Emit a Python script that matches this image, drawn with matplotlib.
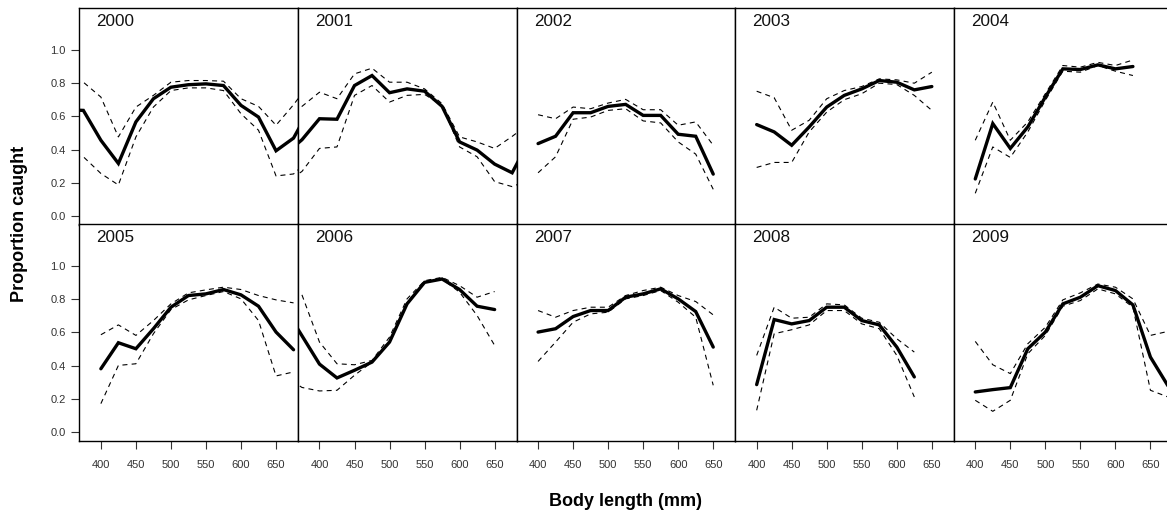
import matplotlib
matplotlib.use("Agg")
import matplotlib.pyplot as plt

plt.rcParams['font.family'] = ['Liberation Sans', 'DejaVu Sans']

# proportion caught by body length, per year: fitted curve + upper/lower band
years = [2000, 2001, 2002, 2003, 2004, 2005, 2006, 2007, 2008, 2009]

len_2000 = [350, 375, 400, 425, 450, 475, 500, 525, 550, 575, 600, 625, 650, 675, 700]
fit_2000 = [0.64, 0.636, 0.457, 0.318, 0.567, 0.706, 0.775, 0.79, 0.795, 0.785, 0.666, 0.596, 0.394, 0.47, 0.66]
hi_2000 = [0.80, 0.805, 0.716, 0.477, 0.656, 0.726, 0.805, 0.815, 0.815, 0.811, 0.706, 0.66, 0.547, 0.67, 0.81]
lo_2000 = [0.36, 0.358, 0.258, 0.189, 0.477, 0.656, 0.755, 0.771, 0.771, 0.755, 0.616, 0.517, 0.243, 0.255, 0.35]

len_2001 = [350, 375, 400, 425, 450, 475, 500, 525, 550, 575, 600, 625, 650, 675, 700]
fit_2001 = [0.37, 0.46, 0.586, 0.583, 0.785, 0.845, 0.742, 0.765, 0.751, 0.66, 0.447, 0.398, 0.314, 0.262, 0.46]
hi_2001 = [0.62, 0.66, 0.745, 0.706, 0.855, 0.889, 0.805, 0.805, 0.765, 0.676, 0.477, 0.447, 0.408, 0.48, 0.56]
lo_2001 = [0.20, 0.27, 0.408, 0.417, 0.726, 0.785, 0.686, 0.726, 0.732, 0.666, 0.417, 0.358, 0.209, 0.179, 0.22]

len_2002 = [400, 425, 450, 475, 500, 525, 550, 575, 600, 625, 650]
fit_2002 = [0.437, 0.481, 0.622, 0.622, 0.66, 0.672, 0.606, 0.606, 0.493, 0.481, 0.254]
hi_2002 = [0.61, 0.586, 0.656, 0.646, 0.68, 0.702, 0.64, 0.64, 0.547, 0.567, 0.427]
lo_2002 = [0.262, 0.358, 0.583, 0.596, 0.636, 0.646, 0.573, 0.561, 0.447, 0.374, 0.163]

len_2003 = [400, 425, 450, 475, 500, 525, 550, 575, 600, 625, 650]
fit_2003 = [0.551, 0.507, 0.427, 0.537, 0.656, 0.726, 0.765, 0.815, 0.805, 0.759, 0.779]
hi_2003 = [0.751, 0.712, 0.517, 0.577, 0.706, 0.755, 0.779, 0.825, 0.819, 0.799, 0.865]
lo_2003 = [0.294, 0.324, 0.324, 0.507, 0.626, 0.70, 0.736, 0.799, 0.791, 0.726, 0.636]

len_2004 = [400, 425, 450, 475, 500, 525, 550, 575, 600, 625]
fit_2004 = [0.225, 0.557, 0.408, 0.537, 0.716, 0.885, 0.881, 0.909, 0.885, 0.899]
hi_2004 = [0.457, 0.686, 0.457, 0.567, 0.736, 0.905, 0.895, 0.924, 0.905, 0.938]
lo_2004 = [0.139, 0.417, 0.354, 0.507, 0.696, 0.871, 0.865, 0.905, 0.871, 0.845]

len_2005 = [400, 425, 450, 475, 500, 525, 550, 575, 600, 625, 650, 675]
fit_2005 = [0.382, 0.538, 0.502, 0.622, 0.751, 0.821, 0.831, 0.857, 0.825, 0.757, 0.602, 0.496]
hi_2005 = [0.586, 0.645, 0.582, 0.671, 0.771, 0.837, 0.855, 0.871, 0.857, 0.821, 0.795, 0.777]
lo_2005 = [0.173, 0.402, 0.412, 0.592, 0.737, 0.795, 0.821, 0.845, 0.801, 0.671, 0.339, 0.363]

len_2006 = [350, 375, 400, 425, 450, 475, 500, 525, 550, 575, 600, 625, 650]
fit_2006 = [0.75, 0.58, 0.41, 0.327, 0.373, 0.422, 0.542, 0.771, 0.90, 0.92, 0.857, 0.757, 0.737]
hi_2006 = [None, 0.825, 0.542, 0.412, 0.406, 0.432, 0.572, 0.801, 0.91, 0.93, 0.88, 0.811, 0.845]
lo_2006 = [0.34, 0.27, 0.249, 0.253, 0.343, 0.422, 0.552, 0.781, 0.90, 0.92, 0.841, 0.701, 0.522]

len_2007 = [400, 425, 450, 475, 500, 525, 550, 575, 600, 625, 650]
fit_2007 = [0.602, 0.622, 0.695, 0.731, 0.731, 0.811, 0.831, 0.861, 0.801, 0.725, 0.512]
hi_2007 = [0.731, 0.691, 0.731, 0.751, 0.751, 0.821, 0.851, 0.871, 0.821, 0.785, 0.705]
lo_2007 = [0.426, 0.542, 0.661, 0.711, 0.721, 0.801, 0.821, 0.851, 0.781, 0.691, 0.283]

len_2008 = [400, 425, 450, 475, 500, 525, 550, 575, 600, 625]
fit_2008 = [0.287, 0.677, 0.651, 0.671, 0.751, 0.751, 0.671, 0.645, 0.512, 0.333]
hi_2008 = [0.462, 0.751, 0.685, 0.691, 0.771, 0.765, 0.685, 0.661, 0.562, 0.482]
lo_2008 = [0.133, 0.592, 0.616, 0.645, 0.731, 0.731, 0.651, 0.622, 0.462, 0.213]

len_2009 = [400, 425, 450, 475, 500, 525, 550, 575, 600, 625, 650, 675]
fit_2009 = [0.243, 0.257, 0.269, 0.502, 0.602, 0.771, 0.811, 0.88, 0.851, 0.765, 0.452, 0.28]
hi_2009 = [0.546, 0.406, 0.353, 0.532, 0.631, 0.795, 0.837, 0.89, 0.871, 0.801, 0.582, 0.606]
lo_2009 = [0.193, 0.127, 0.193, 0.472, 0.582, 0.757, 0.791, 0.861, 0.831, 0.751, 0.253, 0.213]

lengths = [len_2000, len_2001, len_2002, len_2003, len_2004,
           len_2005, len_2006, len_2007, len_2008, len_2009]
fits = [fit_2000, fit_2001, fit_2002, fit_2003, fit_2004,
        fit_2005, fit_2006, fit_2007, fit_2008, fit_2009]
his = [hi_2000, hi_2001, hi_2002, hi_2003, hi_2004,
       hi_2005, hi_2006, hi_2007, hi_2008, hi_2009]
los = [lo_2000, lo_2001, lo_2002, lo_2003, lo_2004,
       lo_2005, lo_2006, lo_2007, lo_2008, lo_2009]

xticks = [400, 450, 500, 550, 600, 650]
yticks = [0.0, 0.2, 0.4, 0.6, 0.8, 1.0]

W, H = 1167, 516
fig = plt.figure(figsize=(W / 100, H / 100), dpi=100)

left0 = 79.5
pw = 218.6
row_top = [8.3, 224.3]
ph = 216.2


def clean(xs, ys):
    pts = [(x, y) for x, y in zip(xs, ys) if y is not None]
    return [p[0] for p in pts], [p[1] for p in pts]


for i, yr in enumerate(years):
    r, c = divmod(i, 5)
    ax = fig.add_axes([(left0 + c * pw) / W, 1 - (row_top[r] + ph) / H, pw / W, ph / H])
    xs = lengths[i]
    x1, y1 = clean(xs, his[i])
    x2, y2 = clean(xs, los[i])
    ax.plot(x1, y1, color='black', lw=0.8, dashes=(4.5, 3.8))
    ax.plot(x2, y2, color='black', lw=0.8, dashes=(4.5, 3.8))
    ax.plot(xs, fits[i], color='black', lw=2.4, solid_capstyle='round', solid_joinstyle='miter')
    ax.set_xlim(369.5, 681.5)
    ax.set_ylim(-0.048, 1.248)
    for s in ax.spines.values():
        s.set_linewidth(1.0)
        s.set_color('black')
    ax.text(0.078, 0.938, str(yr), transform=ax.transAxes, fontsize=12.3,
            ha='left', va='center', color='#111')
    ax.tick_params(direction='out', length=6, width=0.8, color='#333',
                   labelsize=8, labelcolor='#333')
    if c == 0:
        ax.set_yticks(yticks)
        ax.set_yticklabels(['%.1f' % v for v in yticks])
        ax.tick_params(axis='y', pad=4)
    else:
        ax.set_yticks([])
    if r == 1:
        ax.set_xticks(xticks)
        ax.set_xticklabels([str(v) for v in xticks])
        ax.tick_params(axis='x', pad=8)
    else:
        ax.set_xticks([])

fig.text(0.017, 0.566, 'Proportion caught', rotation=90, ha='center', va='center',
         fontsize=13, fontweight='bold')
fig.text(0.536, 0.029, 'Body length (mm)', ha='center', va='center',
         fontsize=13, fontweight='bold')

fig.savefig('out.png', dpi=100)
